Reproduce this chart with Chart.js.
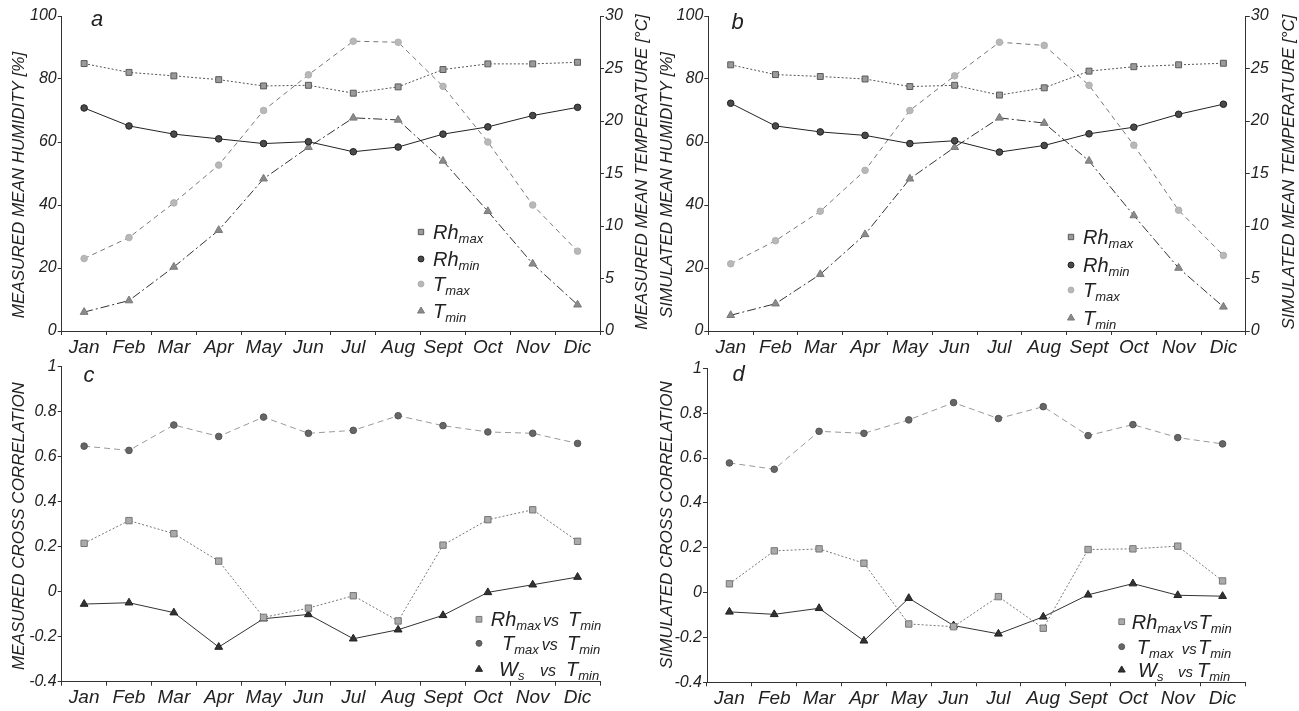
<!DOCTYPE html>
<html><head><meta charset="utf-8">
<script src="https://cdn.jsdelivr.net/npm/chart.js@4.4.0/dist/chart.umd.min.js"></script>
<style>
html,body{margin:0;padding:0;background:#fff;width:1299px;height:711px;overflow:hidden;}
canvas{position:absolute;}
</style></head><body>
<canvas id="ca" width="650" height="370" style="left:0;top:0"></canvas>
<canvas id="cb" width="649" height="370" style="left:650px;top:0"></canvas>
<canvas id="cc" width="650" height="356" style="left:0;top:355px"></canvas>
<canvas id="cd" width="649" height="356" style="left:650px;top:355px"></canvas>
<script>
// ---------- DATA ----------
const months = ['Jan','Feb','Mar','Apr','May','Jun','Jul','Aug','Sept','Oct','Nov','Dic'];
const humidityTicks = [0,20,40,60,80,100];
const temperatureTicks = [0,5,10,15,20,25,30];
const correlationTicks = [-0.4,-0.2,0,0.2,0.4,0.6,0.8,1];

const rhMaxMeasured = [84.9,82.1,81.0,79.8,77.8,78.0,75.5,77.5,83.0,84.8,84.8,85.3];
const rhMinMeasured = [70.8,65.1,62.5,61.0,59.5,60.1,56.9,58.4,62.5,64.8,68.4,71.0];
const tMaxMeasured  = [6.9,8.9,12.2,15.8,21.0,24.4,27.6,27.5,23.3,18.0,12.0,7.6];
const tMinMeasured  = [1.8,2.9,6.1,9.6,14.5,17.5,20.3,20.1,16.2,11.4,6.4,2.5];

const rhMaxSimulated = [84.5,81.4,80.8,80.0,77.6,78.0,74.9,77.2,82.5,83.9,84.5,85.0];
const rhMinSimulated = [72.3,65.1,63.2,62.1,59.5,60.4,56.8,58.9,62.6,64.7,68.8,72.0];
const tMaxSimulated  = [6.4,8.6,11.4,15.3,21.0,24.3,27.5,27.2,23.4,17.7,11.5,7.2];
const tMinSimulated  = [1.5,2.6,5.4,9.2,14.5,17.5,20.3,19.8,16.2,11.0,6.0,2.3];

const rhMaxVsTminMeasured = [0.215,0.316,0.258,0.136,-0.114,-0.073,-0.018,-0.130,0.207,0.320,0.364,0.224];
const tMaxVsTminMeasured  = [0.647,0.628,0.741,0.690,0.776,0.704,0.717,0.782,0.738,0.710,0.704,0.659];
const wsVsTminMeasured    = [-0.055,-0.049,-0.093,-0.246,-0.120,-0.101,-0.209,-0.169,-0.105,-0.003,0.031,0.065];

const rhMaxVsTminSimulated = [0.039,0.186,0.195,0.131,-0.140,-0.152,-0.018,-0.159,0.192,0.195,0.207,0.052];
const tMaxVsTminSimulated  = [0.578,0.550,0.719,0.710,0.770,0.847,0.776,0.829,0.700,0.749,0.691,0.663];
const wsVsTminSimulated    = [-0.086,-0.097,-0.070,-0.215,-0.025,-0.147,-0.184,-0.108,-0.010,0.040,-0.012,-0.016];

// ---------- STYLE ----------
const FAM = "'Liberation Sans', Arial, sans-serif";
Chart.defaults.font.family = FAM;
Chart.defaults.font.style = 'italic';

const ST = {
  rhMax:  {shape:'rect', r:4.2, bg:'#9a9a9a', bd:'#5a5a5a', line:'#555', dash:[2,2]},
  rhMin:  {shape:'circle', r:3.3, bg:'#4a4a4a', bd:'#222', line:'#222', dash:[]},
  tMax:   {shape:'circle', r:3.3, bg:'#b8b8b8', bd:'#b0b0b0', line:'#777', dash:[5,4]},
  tMin:   {shape:'triangle', r:4.5, bg:'#8a8a8a', bd:'#7a7a7a', line:'#333', dash:[9,3,2,3]},
  cRh:    {shape:'rect', r:4.5, bg:'#aaaaaa', bd:'#777', line:'#777', dash:[2,2]},
  cT:     {shape:'circle', r:3.3, bg:'#666', bd:'#555', line:'#999', dash:[6,4]},
  cWs:    {shape:'triangle', r:4.5, bg:'#333', bd:'#222', line:'#333', dash:[]}
};

function ds(data, st, axis){
  return {data, yAxisID: axis||'y', pointStyle: st.shape, pointRadius: st.r, pointBackgroundColor: st.bg,
    pointBorderColor: st.bd, pointBorderWidth: 1, borderColor: st.line, borderWidth: 1,
    borderDash: st.dash, fill:false, tension:0};
}

function fmt(v){ return String(Math.round(v*10)/10); }

function yScale(min,max,ticks,pos,fitW){
  return {type:'linear', position:pos, min, max,
    afterBuildTicks: s=>{ s.ticks = ticks.map(v=>({value:v})); },
    grid:{drawOnChartArea:false, drawTicks:true, tickLength:4, color:'#333', lineWidth:1},
    border:{display:true, color:'#333', width:1},
    ticks:{color:'#222', font:{size:16, style:'italic'}, padding:1, callback: v=>fmt(v)},
    afterFit: s=>{ s.width = fitW; }
  };
}
function xScale(fitH){
  return {type:'category', labels: months, offset:true,
    grid:{display:true, drawOnChartArea:false, drawTicks:true, tickLength:4, offset:true, color:'#333', lineWidth:1},
    border:{display:true, color:'#333', width:1},
    ticks:{color:'#222', font:{size:19, style:'italic'}, padding:1, maxRotation:0, autoSkip:false},
    afterFit: s=>{ s.height = fitH; }
  };
}

function marker(ctx, shape, x, y, r, bg, bd){
  ctx.save(); ctx.fillStyle = bg; ctx.strokeStyle = bd; ctx.lineWidth = 1; ctx.setLineDash([]);
  ctx.beginPath();
  if (shape==='rect'){ const s=r*Math.SQRT1_2; ctx.rect(x-s,y-s,2*s,2*s); }
  else if (shape==='circle'){ ctx.arc(x,y,r,0,Math.PI*2); }
  else { ctx.moveTo(x, y-r); ctx.lineTo(x+r*0.866, y+r*0.5); ctx.lineTo(x-r*0.866, y+r*0.5); ctx.closePath(); }
  ctx.fill(); ctx.stroke(); ctx.restore();
}

const decor = {
  id:'decor',
  afterDraw(chart){
    const c = chart.options.plugins.decor; const ctx = chart.ctx;
    ctx.save(); ctx.fillStyle = '#222'; ctx.textBaseline = 'middle'; ctx.textAlign = 'center';
    (c.titles||[]).forEach(t=>{
      ctx.save(); ctx.translate(t.x, t.y); ctx.rotate(-Math.PI/2);
      ctx.font = `italic 17px ${FAM}`; ctx.fillText(t.text, 0, 0); ctx.restore();
    });
    ctx.font = `italic 22px ${FAM}`; ctx.fillText(c.letter.t, c.letter.x, c.letter.y);
    ctx.textAlign = 'left'; ctx.textBaseline = 'alphabetic';
    (c.legend||[]).forEach(row=>{
      marker(ctx, row.st.shape, row.mx, row.my, row.st.r*0.9, row.st.bg, row.st.bd);
      let cur = 0; const base = row.my + 7;
      row.runs.forEach(r=>{
        const size = r.sub ? 13 : (r.size||20);
        ctx.font = `italic ${size}px ${FAM}`;
        const x = (r.x!==undefined) ? r.x : cur;
        ctx.fillText(r.t, x, base + (r.sub?4:0));
        cur = x + ctx.measureText(r.t).width;
      });
    });
    ctx.restore();
  }
};

function make(id, datasets, scales, padding, decorCfg){
  new Chart(document.getElementById(id), {
    type:'line',
    data:{labels: months, datasets},
    options:{responsive:false, animation:false, devicePixelRatio:1,
      layout:{padding},
      plugins:{legend:{display:false}, tooltip:{enabled:false}, decor: decorCfg},
      scales},
    plugins:[decor]
  });
}

function tempLegend(mx, ys, tx){
  return [
    {st:ST.rhMax, mx, my:ys[0], runs:[{t:'Rh', x:tx},{t:'max', sub:true}]},
    {st:ST.rhMin, mx, my:ys[1], runs:[{t:'Rh', x:tx},{t:'min', sub:true}]},
    {st:ST.tMax,  mx, my:ys[2], runs:[{t:'T', x:tx},{t:'max', sub:true}]},
    {st:ST.tMin,  mx, my:ys[3], runs:[{t:'T', x:tx},{t:'min', sub:true}]}
  ];
}

// Panel a
make('ca',
  [ds(rhMaxMeasured, ST.rhMax), ds(rhMinMeasured, ST.rhMin), ds(tMaxMeasured, ST.tMax, 'y1'), ds(tMinMeasured, ST.tMin, 'y1')],
  {x: xScale(39), y: yScale(0,100,humidityTicks,'left',61.7), y1: yScale(0,30,temperatureTicks,'right',50)},
  {top:16, left:0, right:0, bottom:0},
  {titles:[{text:'MEASURED MEAN HUMIDITY [%]', x:19, y:185},{text:'MEASURED MEAN TEMPERATURE [°C]', x:642, y:172}],
   letter:{t:'a', x:97, y:20},
   legend: tempLegend(421, [232,259,284,311], 433)});

// Panel b
make('cb',
  [ds(rhMaxSimulated, ST.rhMax), ds(rhMinSimulated, ST.rhMin), ds(tMaxSimulated, ST.tMax, 'y1'), ds(tMinSimulated, ST.tMin, 'y1')],
  {x: xScale(39), y: yScale(0,100,humidityTicks,'left',58.3), y1: yScale(0,30,temperatureTicks,'right',53.2)},
  {top:16, left:0, right:0, bottom:0},
  {titles:[{text:'SIMULATED MEAN HUMIDITY [%]', x:17, y:185},{text:'SIMULATED MEAN TEMPERATURE [°C]', x:639.6, y:172}],
   letter:{t:'b', x:87.5, y:23},
   legend: tempLegend(421, [237,265,290,318], 433)});

// Panel c
make('cc',
  [ds(rhMaxVsTminMeasured, ST.cRh), ds(tMaxVsTminMeasured, ST.cT), ds(wsVsTminMeasured, ST.cWs)],
  {x: xScale(29.3), y: yScale(-0.4,1,correlationTicks,'left',61.7)},
  {top:11.7, left:0, right:50, bottom:0},
  {titles:[{text:'MEASURED CROSS CORRELATION', x:19, y:171}],
   letter:{t:'c', x:89, y:21},
   legend:[
     {st:ST.cRh, mx:479, my:264.3, runs:[{t:'Rh', x:490.7},{t:'max', sub:true},{t:'vs', x:543, size:16},{t:'T', x:568},{t:'min', sub:true}]},
     {st:ST.cT,  mx:479, my:288.3, runs:[{t:'T', x:502},{t:'max', sub:true},{t:'vs', x:541.7, size:16},{t:'T', x:567},{t:'min', sub:true}]},
     {st:ST.cWs, mx:479, my:314.3, runs:[{t:'W', x:499},{t:'s', sub:true},{t:'vs', x:540, size:16},{t:'T', x:566},{t:'min', sub:true}]}
   ]});

// Panel d
make('cd',
  [ds(rhMaxVsTminSimulated, ST.cRh), ds(tMaxVsTminSimulated, ST.cT), ds(wsVsTminSimulated, ST.cWs)],
  {x: xScale(28.7), y: yScale(-0.4,1,correlationTicks,'left',57)},
  {top:13.3, left:0, right:54, bottom:0},
  {titles:[{text:'SIMULATED CROSS CORRELATION', x:17, y:170}],
   letter:{t:'d', x:88.5, y:20},
   legend:[
     {st:ST.cRh, mx:471.7, my:266.7, runs:[{t:'Rh', x:481.7},{t:'max', sub:true},{t:'vs', x:533, size:15},{t:'T', x:548.5},{t:'min', sub:true}]},
     {st:ST.cT,  mx:471.7, my:291.7, runs:[{t:'T', x:486.7},{t:'max', sub:true},{t:'vs', x:531.7, size:15},{t:'T', x:548},{t:'min', sub:true}]},
     {st:ST.cWs, mx:471.7, my:315,   runs:[{t:'W', x:488},{t:'s', sub:true},{t:'vs', x:528, size:15},{t:'T', x:547},{t:'min', sub:true}]}
   ]});
</script>
</body></html>
